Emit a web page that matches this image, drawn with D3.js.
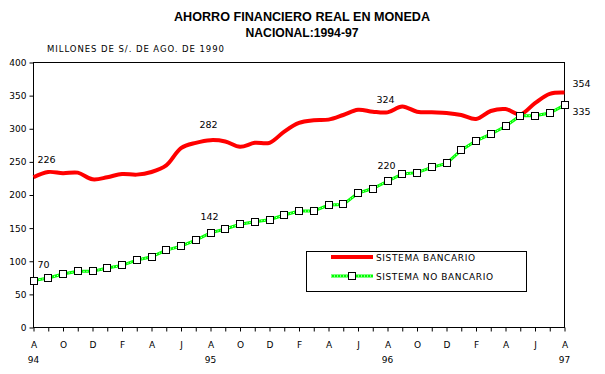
<!DOCTYPE html>
<html>
<head>
<meta charset="utf-8">
<script src="https://cdn.jsdelivr.net/npm/d3@7"></script>
<style>
  body { margin: 0; background: #fff; }
  svg { display: block; }
  text { font-family: "DejaVu Sans", Verdana, sans-serif; fill: #000; }
</style>
</head>
<body>
<svg id="chart" width="605" height="374"></svg>
<script>
// monthly, Aug 1994 .. Aug 1997
var months = ["A","S","O","N","D","E","F","M","A","M","J","J",
              "A","S","O","N","D","E","F","M","A","M","J","J",
              "A","S","O","N","D","E","F","M","A","M","J","J","A"];
var years = ["94","95","96","97"];
var bancario = [226,234,232,233,223,226,231,230,234,244,270,278,
                282,280,272,278,278,295,308,312,313,320,328,325,
                324,333,325,324,323,320,314,326,329,321,338,352,354];
var noBancario = [70,74,80,84,84,89,93,101,106,116,122,131,
                  142,148,155,159,162,169,175,175,184,185,202,209,
                  220,231,233,241,247,267,281,291,303,319,319,323,335];
var yTicks = [0,50,100,150,200,250,300,350,400];
var seriesNames = ["SISTEMA BANCARIO","SISTEMA NO BANCARIO"];

var svg = d3.select("#chart");
var margin = { top: 62, right: 41, bottom: 47, left: 33 };
var width = 605 - margin.left - margin.right,
    height = 374 - margin.top - margin.bottom;

var x = d3.scaleLinear().domain([0, months.length - 1]).range([margin.left + 0.5, margin.left + width + 0.5]);
var y = d3.scaleLinear().domain([0, 400]).range([margin.top + height, margin.top]);

// title
svg.append("text")
    .attr("x", 302).attr("y", 21)
    .attr("text-anchor", "middle")
    .style("font-family", "'Liberation Sans Narrow', 'Arial Narrow', Arial, sans-serif")
    .style("font-weight", "bold").style("font-size", "13px")
    .attr("textLength", 256).attr("lengthAdjust", "spacingAndGlyphs")
    .text("AHORRO FINANCIERO REAL EN MONEDA");
svg.append("text")
    .attr("x", 302).attr("y", 37)
    .attr("text-anchor", "middle")
    .style("font-family", "'Liberation Sans Narrow', 'Arial Narrow', Arial, sans-serif")
    .style("font-weight", "bold").style("font-size", "13px")
    .attr("textLength", 113).attr("lengthAdjust", "spacingAndGlyphs")
    .text("NACIONAL:1994-97");

svg.append("text")
    .attr("x", 47).attr("y", 52)
    .style("font-size", "8.5px")
    .attr("textLength", 177).attr("lengthAdjust", "spacing")
    .text("MILLONES DE S/. DE AGO. DE 1990");

// plot frame
svg.append("rect")
    .attr("x", x(0)).attr("y", y(400) + 0.5)
    .attr("width", x(months.length - 1) - x(0)).attr("height", y(0) - y(400))
    .attr("fill", "none").attr("stroke", "#000").attr("stroke-width", 1);

// y axis
var yAxis = svg.append("g")
    .attr("transform", "translate(" + x(0) + ",0.5)")
    .call(d3.axisLeft(y).tickValues(yTicks).tickSize(4).tickPadding(3).tickFormat(d3.format("d")));
yAxis.select(".domain").remove();
yAxis.selectAll("line").attr("stroke", "#000");
yAxis.selectAll("text").style("font-size", "9px").style("font-family", "'DejaVu Sans', sans-serif");

// x axis
var xAxis = svg.append("g")
    .attr("transform", "translate(0," + (y(0) + 0.5) + ")")
    .call(d3.axisBottom(x).tickValues(d3.range(months.length)).tickSize(4).tickPadding(10)
      .tickFormat(function(i) { return i % 2 === 0 ? months[i] : ""; }));
xAxis.select(".domain").remove();
xAxis.selectAll("line").attr("stroke", "#000");
xAxis.selectAll("text").style("font-size", "9px").style("font-family", "'DejaVu Sans', sans-serif");

svg.selectAll(".year")
    .data(years)
    .enter().append("text")
    .attr("class", "year")
    .attr("x", function(d, i) { return x(i * 12); })
    .attr("y", 363)
    .attr("text-anchor", "middle")
    .style("font-size", "9px")
    .text(function(d) { return d; });

// red line (smoothed)
var redLine = d3.line()
    .x(function(d, i) { return x(i); })
    .y(function(d) { return y(d); })
    .curve(d3.curveCatmullRom.alpha(0.5));
svg.append("path")
    .datum(bancario)
    .attr("d", redLine)
    .attr("fill", "none").attr("stroke", "#ff0000").attr("stroke-width", 4);

// green line
var greenLine = d3.line()
    .x(function(d, i) { return x(i); })
    .y(function(d) { return y(d); });
svg.append("path")
    .datum(noBancario)
    .attr("d", greenLine)
    .attr("fill", "none").attr("stroke", "#00ff00").attr("stroke-width", 3);
svg.append("path")
    .datum(noBancario)
    .attr("d", greenLine)
    .attr("fill", "none").attr("stroke", "#fff").attr("stroke-width", 1)
    .attr("stroke-dasharray", "1,2");

svg.selectAll(".mk")
    .data(noBancario)
    .enter().append("rect")
    .attr("class", "mk")
    .attr("x", function(d, i) { return Math.round(x(i)) - 3.5; })
    .attr("y", function(d) { return Math.round(y(d)) - 3.5; })
    .attr("width", 7).attr("height", 7)
    .attr("fill", "#fff").attr("stroke", "#000").attr("stroke-width", 1);

// data labels
var labels = [
  { s: bancario, i: 0, dx: 4, dy: -14, anchor: "start" },
  { s: bancario, i: 12, dx: -2, dy: -12, anchor: "middle" },
  { s: bancario, i: 24, dx: -2, dy: -9, anchor: "middle" },
  { s: bancario, i: 36, dx: 8, dy: -5, anchor: "start" },
  { s: noBancario, i: 0, dx: 4, dy: -13, anchor: "start" },
  { s: noBancario, i: 12, dx: -1, dy: -13, anchor: "middle" },
  { s: noBancario, i: 24, dx: -1, dy: -12, anchor: "middle" },
  { s: noBancario, i: 36, dx: 8, dy: 10, anchor: "start" }
];
svg.selectAll(".dl")
    .data(labels)
    .enter().append("text")
    .attr("class", "dl")
    .attr("x", function(d) { return x(d.i) + d.dx; })
    .attr("y", function(d) { return y(d.s[d.i]) + d.dy; })
    .attr("text-anchor", function(d) { return d.anchor; })
    .style("font-size", "9.5px")
    .text(function(d) { return d.s[d.i]; });

// legend
var lg = svg.append("g").attr("transform", "translate(306,251)");
lg.append("rect")
    .attr("x", 0.5).attr("y", 0.5).attr("width", 220).attr("height", 40)
    .attr("fill", "#fff").attr("stroke", "#000");
lg.append("line")
    .attr("x1", 25).attr("x2", 67).attr("y1", 6).attr("y2", 6)
    .attr("stroke", "#ff0000").attr("stroke-width", 4);
lg.append("line")
    .attr("x1", 25).attr("x2", 67).attr("y1", 25).attr("y2", 25)
    .attr("stroke", "#00ff00").attr("stroke-width", 3);
lg.append("line")
    .attr("x1", 25).attr("x2", 67).attr("y1", 25).attr("y2", 25)
    .attr("stroke", "#fff").attr("stroke-width", 1).attr("stroke-dasharray", "1,2");
lg.append("rect")
    .attr("x", 42.5).attr("y", 21.5).attr("width", 7).attr("height", 7)
    .attr("fill", "#fff").attr("stroke", "#000");
var legendWidths = [99, 117];
lg.selectAll(".lt")
    .data(seriesNames)
    .enter().append("text")
    .attr("class", "lt")
    .attr("x", 70)
    .attr("y", function(d, i) { return 10 + i * 19; })
    .style("font-size", "9px")
    .attr("textLength", function(d, i) { return legendWidths[i]; })
    .attr("lengthAdjust", "spacing")
    .text(function(d) { return d; });
</script>
</body>
</html>
